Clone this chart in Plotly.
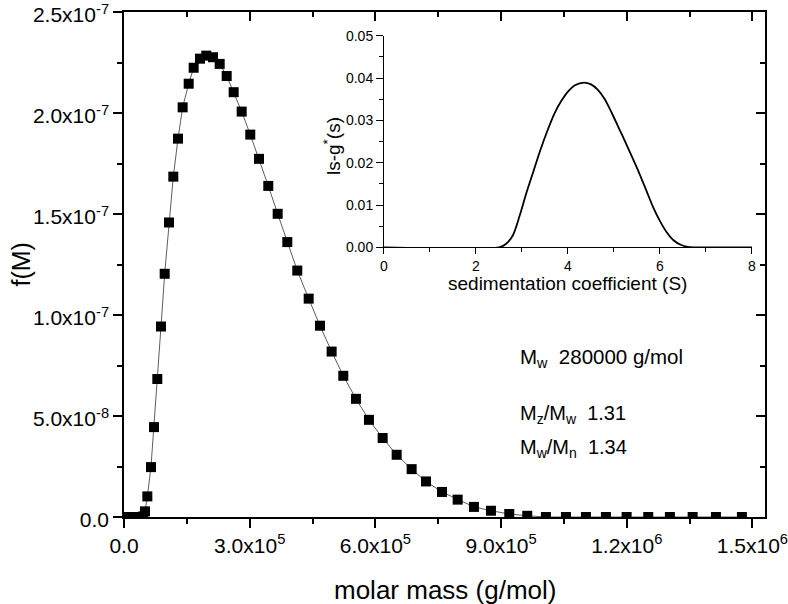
import plotly.graph_objects as go

# ---- main data: molar mass distribution f(M) ----
molar_mass = [0, 8000, 16000, 24000, 32000, 40000, 46000, 50100, 55700, 64400, 71600,
              79500, 88300, 97100, 107400, 117700, 128900, 140000, 154400, 166300,
              181400, 196400, 212400, 228400, 245100, 261800, 280900, 301400, 322200,
              344400, 366800, 389800, 413600, 440800, 467800, 495600, 523400, 553700,
              584700, 617400, 650800, 686600, 720800, 759000, 796400, 835300, 875900,
              919600, 962500, 1007100, 1054900, 1102600, 1150300, 1199700, 1251300,
              1303000, 1357300, 1412900, 1474900]
f_M = [0, 0, 0, 0, 0, 0, 0.3e-9, 2.8e-9, 1.02e-8, 2.47e-8, 4.45e-8,
       6.83e-8, 9.43e-8, 1.204e-7, 1.458e-7, 1.685e-7, 1.873e-7, 2.028e-7, 2.145e-7, 2.224e-7,
       2.269e-7, 2.284e-7, 2.276e-7, 2.243e-7, 2.183e-7, 2.103e-7, 2.007e-7, 1.893e-7, 1.773e-7,
       1.639e-7, 1.501e-7, 1.361e-7, 1.220e-7, 1.081e-7, 9.47e-8, 8.19e-8, 6.99e-8, 5.85e-8,
       4.81e-8, 3.91e-8, 3.08e-8, 2.37e-8, 1.76e-8, 1.24e-8, 8.6e-9, 5.0e-9, 3.1e-9,
       1.5e-9, 6e-10, 0, 0, 0, 0, 0, 0,
       0, 0, 0, 0]

x_tickvals = [0, 3e5, 6e5, 9e5, 1.2e6, 1.5e6]
x_ticktext = ["0.0", "3.0x10<sup>5</sup>", "6.0x10<sup>5</sup>", "9.0x10<sup>5</sup>",
              "1.2x10<sup>6</sup>", "1.5x10<sup>6</sup>"]
x_minor = [1.5e5, 4.5e5, 7.5e5, 1.05e6, 1.35e6]
y_tickvals = [0, 5e-8, 1e-7, 1.5e-7, 2e-7, 2.5e-7]
y_ticktext = ["0.0", "5.0x10<sup>-8</sup>", "1.0x10<sup>-7</sup>", "1.5x10<sup>-7</sup>",
              "2.0x10<sup>-7</sup>", "2.5x10<sup>-7</sup>"]
y_minor = [2.5e-8, 7.5e-8, 1.25e-7, 1.75e-7, 2.25e-7]

# ---- inset data: ls-g*(s) ----
sed_coeff = [0.0, 2.5, 2.65, 2.8, 2.95, 3.1, 3.25, 3.4, 3.55, 3.7, 3.85, 4.0, 4.15, 4.35,
             4.5, 4.65, 4.8, 4.95, 5.1, 5.25, 5.4, 5.55, 5.7, 5.85, 6.0, 6.15, 6.3, 6.45,
             6.6, 6.75, 8.0]
g_s = [0, 0, 0.0008, 0.0028, 0.0075, 0.013, 0.018, 0.023, 0.0275, 0.0315, 0.0345, 0.0368,
       0.0383, 0.0389, 0.0385, 0.0372, 0.0350, 0.0318, 0.0283, 0.0248, 0.0212, 0.0175,
       0.0135, 0.0095, 0.0062, 0.0035, 0.0016, 0.0006, 0.0001, 0, 0]

labels_text = ["M<sub>w</sub>\u00a0\u00a0280000 g/mol",
               "M<sub>z</sub>/M<sub>w</sub>\u00a0\u00a01.31",
               "M<sub>w</sub>/M<sub>n</sub>\u00a0\u00a01.34"]

FONT = "Liberation Sans, Arial, sans-serif"

fig = go.Figure()
fig.add_trace(go.Scatter(
    x=molar_mass, y=f_M, mode="lines+markers",
    line=dict(color="#333333", width=0.8),
    marker=dict(symbol="square", size=10, color="black", line=dict(width=0)),
    showlegend=False, xaxis="x", yaxis="y"))
fig.add_trace(go.Scatter(
    x=sed_coeff, y=g_s, mode="lines",
    line=dict(color="black", width=1.8, shape="spline", smoothing=0.8),
    showlegend=False, xaxis="x2", yaxis="y2"))
fig.add_trace(go.Scatter(x=[None], y=[None], showlegend=False, xaxis="x3", yaxis="y3"))

main_ax = dict(showline=True, linecolor="black", linewidth=1.5, showgrid=False,
               zeroline=False, ticks="outside", ticklen=9, tickwidth=1.5, tickcolor="black",
               automargin=False, ticklabeloverflow="allow",
               tickfont=dict(family=FONT, size=21, color="black"))
mirror_ax = dict(showline=True, linecolor="black", linewidth=1.5, showgrid=False,
                 zeroline=False, ticks="inside", ticklen=9, tickwidth=1.5, tickcolor="black",
                 showticklabels=False, automargin=False)
inset_ax = dict(showline=True, linecolor="black", linewidth=1, showgrid=False, zeroline=False,
                ticks="outside", tickwidth=1, tickcolor="black", automargin=False,
                tickfont=dict(family=FONT, size=14, color="black"))

fig.update_layout(
    template="none",
    width=788, height=604,
    margin=dict(l=124, r=23, t=12, b=87, autoexpand=False),
    paper_bgcolor="white", plot_bgcolor="white",
    font=dict(family=FONT, color="black"),
    xaxis=dict(**main_ax, range=[0, 1.53e6], domain=[0, 1], anchor="y",
               tickmode="array", tickvals=x_tickvals, ticktext=x_ticktext,
               minor=dict(tickmode="array", tickvals=x_minor, ticks="outside", ticklen=5,
                          tickwidth=1.5, tickcolor="black")),
    yaxis=dict(**main_ax, range=[0, 2.5e-7], domain=[0, 1], anchor="x",
               tickmode="array", tickvals=y_tickvals, ticktext=y_ticktext,
               ticklabelshift=3,
               minor=dict(tickmode="array", tickvals=y_minor, ticks="outside", ticklen=5,
                          tickwidth=1.5, tickcolor="black")),
    xaxis3=dict(**mirror_ax, overlaying="x", side="top", anchor="y3", range=[0, 1.53e6],
                tickmode="array", tickvals=x_tickvals,
                minor=dict(tickmode="array", tickvals=x_minor, ticks="inside", ticklen=5,
                           tickwidth=1.5, tickcolor="black")),
    yaxis3=dict(**mirror_ax, overlaying="y", side="right", anchor="x3", range=[0, 2.5e-7],
                tickmode="array", tickvals=y_tickvals,
                minor=dict(tickmode="array", tickvals=y_minor, ticks="inside", ticklen=5,
                           tickwidth=1.5, tickcolor="black")),
    xaxis2=dict(**inset_ax, domain=[0.4056, 0.9797], anchor="y2", range=[0, 8], ticklen=6,
                tickmode="array", tickvals=[0, 2, 4, 6, 8],
                minor=dict(tickmode="array", tickvals=[1, 3, 5, 7], ticks="outside",
                           ticklen=3.5, tickwidth=1, tickcolor="black")),
    yaxis2=dict(**inset_ax, domain=[0.534, 0.953], anchor="x2", range=[0, 0.05], ticklen=7,
                tickmode="array", tickvals=[0, 0.01, 0.02, 0.03, 0.04, 0.05],
                ticktext=["0.00", "0.01", "0.02", "0.03", "0.04", "0.05"],
                minor=dict(tickmode="array", tickvals=[0.005, 0.015, 0.025, 0.035, 0.045],
                           ticks="outside", ticklen=4, tickwidth=1, tickcolor="black")),
)

annos = [
    dict(text="molar mass (g/mol)", x=0.5, y=-(590 - 517) / 505, xref="paper", yref="paper",
         xanchor="center", yanchor="middle", showarrow=False,
         font=dict(family=FONT, size=26, color="black")),
    dict(text="f(M)", x=(20 - 124) / 641, y=0.5, xref="paper", yref="paper", textangle=-90,
         xanchor="center", yanchor="middle", showarrow=False,
         font=dict(family=FONT, size=25, color="black")),
    dict(text="sedimentation coefficient (S)", x=0.6926, y=(517 - 283) / 505,
         xref="paper", yref="paper",
         xanchor="center", yanchor="middle", showarrow=False,
         font=dict(family=FONT, size=19, color="black")),
    dict(text="ls-g<sup>*</sup>(s)", x=(332 - 124) / 641, y=(517 - 146) / 505,
         xref="paper", yref="paper", textangle=-90,
         xanchor="center", yanchor="middle", showarrow=False,
         font=dict(family=FONT, size=19, color="black")),
]
label_y = [0.315, 0.202, 0.135]
label_size = [20.5, 20, 20]
for t, yy, sz in zip(labels_text, label_y, label_size):
    annos.append(dict(text=t, x=(518 - 124) / 641, y=yy, xref="paper", yref="paper",
                      xanchor="left", yanchor="middle", showarrow=False,
                      font=dict(family=FONT, size=sz, color="black")))
fig.update_layout(annotations=annos)

# remove the browser's default 8px body margin so the figure sits at the page origin
fig.write_html("out.html", config={"displayModeBar": False},
               post_script="document.body.style.margin='0';")
